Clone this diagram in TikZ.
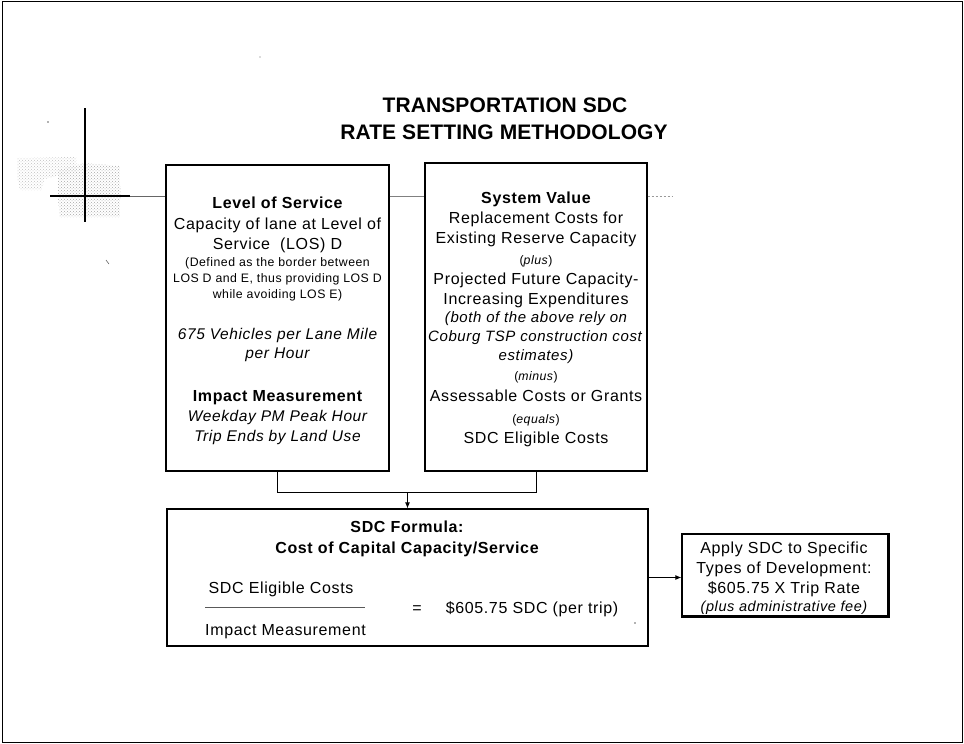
\documentclass[tikz,border=0pt]{standalone}
\usepackage{fontspec}
\setmainfont{Liberation Sans}[LetterSpace=4]
\newfontfamily\titlefont{Liberation Sans}[LetterSpace=0.5]
\usetikzlibrary{arrows.meta,patterns}
\begin{document}
\begin{tikzpicture}[x=1pt,y=-1pt,
  box/.style={draw=black, line width=1.2pt, inner sep=0pt},
  ln/.style={anchor=base, inner sep=0pt, font=\fontsize{16}{19}\selectfont},
  bf/.style={ln, font=\fontsize{16}{19}\selectfont\bfseries},
  it/.style={ln, font=\fontsize{15.5}{19}\selectfont\itshape},
  itr/.style={ln, font=\fontsize{15}{19}\selectfont\itshape},
  sm/.style={ln, font=\fontsize{12.3}{15}\selectfont},
  smit/.style={ln, font=\fontsize{14.5}{17}\selectfont\itshape},
  ttl/.style={anchor=base, inner sep=0pt, font=\titlefont\fontsize{21}{25}\selectfont\bfseries},
  conn/.style={draw=black, line width=0.9pt},
  tip/.style={-{Latex[length=6pt,width=5pt]}},
]
\useasboundingbox (0,0) rectangle (964,744);
% outer frame
\draw[line width=1pt] (2.5,1.5) rectangle (962.5,742.5);

% stipple patches around the crosshair
\fill[pattern=crosshatch dots, pattern color=black!35] (58,170) -- (85,163) -- (120,166) -- (121,193) -- (120,217) -- (60,217) -- (58,199) -- cycle;
\fill[pattern=crosshatch dots, pattern color=black!25] (17,158) -- (76,157) -- (77,172) -- (58,176) -- (44,179) -- (42,190) -- (20,190) -- (17,176) -- cycle;

% title
\node[ttl] (t1) at (505,112) {TRANSPORTATION SDC};
\node[ttl] (t2) at (504,139) {RATE SETTING METHODOLOGY};

% boxes
\node[box, minimum width=223pt, minimum height=306pt] (los) at (277.5,318) {};
\node[box, minimum width=222pt, minimum height=308pt] (sv) at (536,317) {};
\node[box, minimum width=481pt, minimum height=137pt] (fm) at (407.5,577.5) {};
\node[box, minimum width=206pt, minimum height=82pt] (ap) at (785,575) {};
\draw[line width=1.2pt] ([shift={(1.2,0)}]ap.north east) -- ([shift={(1.2,1.2)}]ap.south east) -- ([shift={(0,1.2)}]ap.south west);

% crosshair and side lines
\coordinate (chT) at (85,108);
\coordinate (chB) at (85,222);
\coordinate (chL) at (50,196);
\coordinate (chM) at (130,196);
\coordinate (tail) at (672,196);
\draw[line width=2pt] (chT) -- (chB);
\draw[line width=2pt] (chL) -- (chM);
\draw[line width=1pt, black!60] (chM) -- (chM -| los.west);
\draw[line width=1pt, black!50] (los.east |- chL) -- (sv.west |- chL);
\draw[line width=0.8pt, black!40, dash pattern=on 2pt off 2pt] (sv.east |- chL) -- (tail);

% connectors
\coordinate (jn) at (407.5,492);
\draw[conn] (los.south) -- (los.south |- jn) -- (sv.south |- jn) -- (sv.south);
\draw[conn,tip] (jn) -- (fm.north);
\draw[conn,tip] (fm.east) -- (fm.east -| ap.west);

% left box text
\node[bf] (l1) at (277.5,208) {Level of Service};
\node[ln] (l2) at (277.5,229) {Capacity of lane at Level of};
\node[ln] (l3) at (277.5,249) {Service\ \ (LOS) D};
\node[sm] (l4) at (277.5,266) {(Defined as the border between};
\node[sm] (l5) at (277.5,282) {LOS D and E, thus providing LOS D};
\node[sm] (l6) at (277.5,298) {while avoiding LOS E)};
\node[it] (l7) at (277.5,339) {675 Vehicles per Lane Mile};
\node[it] (l8) at (277.5,358.5) {per Hour};
\node[bf] (l9) at (277.5,401) {Impact Measurement};
\node[it] (l10) at (277.5,421.5) {Weekday PM Peak Hour};
\node[it] (l11) at (277.5,441) {Trip Ends by Land Use};

% right box text
\node[bf] (r1) at (536,203.5) {System Value};
\node[ln] (r2) at (536,223.5) {Replacement Costs for};
\node[ln] (r3) at (536,243.5) {Existing Reserve Capacity};
\node[sm] (r4) at (536,264) {(\textit{plus})};
\node[ln] (r5) at (536,284.5) {Projected Future Capacity-};
\node[ln] (r6) at (536,304.5) {Increasing Expenditures};
\node[itr] (r7) at (536,322) {(both of the above rely on};
\node[itr] (r8) at (535,341.5) {Coburg TSP construction cost};
\node[itr] (r9) at (536,360) {estimates)};
\node[sm] (r10) at (536,380) {(\textit{minus})};
\node[ln] (r11) at (536,401.5) {Assessable Costs or Grants};
\node[sm] (r12) at (536,423) {(\textit{equals})};
\node[ln] (r13) at (536,443) {SDC Eligible Costs};

% formula box text
\node[bf] (f1) at (407,532) {SDC Formula:};
\node[bf] (f2) at (407,553) {Cost of Capital Capacity/Service};
\node[ln] (f3) at (281,593.5) {SDC Eligible Costs};
\coordinate (barL) at (205,607.5);
\coordinate (barR) at (365,607.5);
\draw[line width=0.8pt, black!65] (barL) -- (barR);
\node[ln] (f4) at (285.5,635) {Impact Measurement};
\node[ln] (f5) at (417,613) {=};
\node[ln] (f6) at (532,613.5) {\$605.75 SDC (per trip)};

% apply box text
\node[ln] (a1) at (784,553) {Apply SDC to Specific};
\node[ln] (a2) at (784,573) {Types of Development:};
\node[ln] (a3) at (784,593) {\$605.75 X Trip Rate};
\node[smit] (a4) at (784,611) {(plus administrative fee)};

% small specks
\fill[black!60] (48,122) circle (0.8pt);
\fill[black!60] (260,57) circle (0.6pt);
\fill[black!60] (635,623) circle (0.8pt);
\draw[black!60, line width=0.6pt] (106,260) -- (109,264);
\end{tikzpicture}
\end{document}
